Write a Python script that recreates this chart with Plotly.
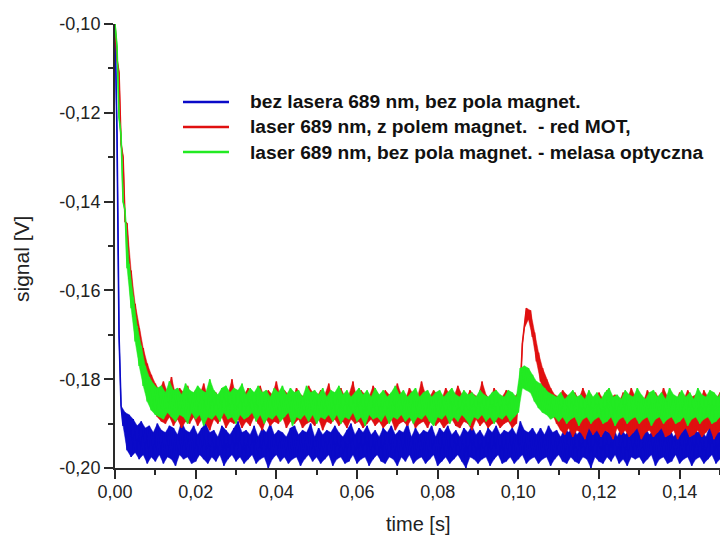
import numpy as np
import plotly.graph_objects as go

# Oscilloscope traces, sampled every 0.5 ms; signal values in mV
SAMPLE_STEP = 0.0005  # s

SERIES_NAMES = [
    "bez lasera 689 nm, bez pola magnet.",
    "laser 689 nm, z polem magnet.\u00a0 - red MOT,",
    "laser 689 nm, bez pola magnet. - melasa optyczna",
]
SERIES_COLORS = ["#0a0ac8", "#e01010", "#22ea22"]

blue_mv = [
    -100, -125, -170, -186, -190.5, -187.5, -196, -188, -197.5, -189,
    -196.5, -190.5, -198, -189.5, -197, -191, -199, -190.5, -197.5, -192,
    -198.5, -190, -197, -191.5, -199, -192, -197.5, -190.5, -198, -191,
    -199.5, -192.5, -197, -189.5, -198, -191.5, -197.5, -192, -199, -190.5,
    -198.5, -192.5, -197, -191, -198, -190, -199, -192, -197.5, -191.5,
    -198.5, -193, -197, -190.5, -199.5, -191.5, -198, -192.5, -197, -191,
    -198.5, -189.5, -197.5, -192, -199, -191.5, -198, -192.5, -197, -190.5,
    -199, -193, -198, -191, -197.5, -192, -200, -190, -198, -192.5,
    -197, -191.5, -198.5, -192, -197.5, -193, -199, -191, -198, -190.5,
    -197.5, -192.5, -199.5, -191.5, -198, -192, -197, -190, -198.5, -193,
    -197.5, -191, -199, -192.5, -198, -191.5, -197, -192, -199.5, -190.5,
    -198, -192, -197.5, -193, -199, -191.5, -198.5, -190, -197, -192.5,
    -199, -191, -198, -192, -197.5, -190.5, -199.5, -192.5, -198, -191.5,
    -197, -193, -198.5, -191, -199, -192, -197.5, -190.5, -198, -192.5,
    -199.5, -191.5, -197.5, -192, -198.5, -190, -197, -193, -199, -191,
    -198, -192.5, -197.5, -191.5, -199, -192, -198, -190.5, -197, -193,
    -199.5, -191, -198.5, -192, -197.5, -190.5, -199, -192.5, -198, -191.5,
    -197, -193, -198.5, -191, -200, -192, -197.5, -190.5, -198, -192.5,
    -199, -191.5, -198, -193, -197.5, -191, -199.5, -192, -198, -190.5,
    -197, -192.5, -199, -191.5, -198.5, -192, -197.5, -191, -199, -192.5,
    -198, -189.5, -197, -191.5, -199, -192, -198, -191, -197.5, -192.5,
    -199, -191, -198, -192.5, -197.5, -190.5, -199.5, -192, -198, -191.5,
    -197, -193, -198.5, -191, -199, -192, -197.5, -190.5, -198.5, -192.5,
    -199, -191.5, -197.5, -193, -198, -191, -200, -192, -197.5, -190.5,
    -198.5, -192.5, -199, -191.5, -197.5, -192, -198.5, -190.5, -197, -193,
    -199, -191, -198, -192.5, -199.5, -191.5, -197.5, -192, -198, -190.5,
    -197.5, -193, -199, -191, -198, -192.5, -197, -191.5, -199.5, -192,
    -198, -190.5, -197.5, -192.5, -199, -191, -198.5, -193, -197, -191.5,
    -199, -192, -198, -190.5, -197.5, -192.5, -199.5, -191, -198, -192,
    -197.5, -191.5, -199, -193, -198, -190.5, -197, -192, -199, -191.5,
    -198, -192.5, -197.5, -191,
]

red_mv = [
    -100, -108, -111, -127, -130, -144.5, -145, -157.5, -155.5, -166,
    -163, -172.5, -168.5, -178, -173, -182, -176.5, -185, -179, -187,
    -181, -188.5, -182.5, -189.5, -180.5, -190, -183, -188.5, -179.5, -190.5,
    -183.5, -189, -182, -191, -183, -189.5, -181.5, -190, -184, -188.5,
    -182.5, -190.5, -183.5, -189, -181, -190, -184, -191.5, -182.5, -189,
    -183, -190, -184.5, -188.5, -182, -191, -183.5, -189.5, -180, -190,
    -184, -189, -182.5, -191, -183.5, -189.5, -182, -190.5, -184.5, -188.5,
    -183, -190, -181.5, -191.5, -184, -189, -182.5, -190.5, -183.5, -189.5,
    -180.5, -190, -184, -188.5, -182.5, -191, -183.5, -189.5, -184.5, -190,
    -182, -189, -183.5, -191, -184, -190, -181.5, -189.5, -183, -190.5,
    -184, -189, -182.5, -191.5, -183.5, -189.5, -181, -190, -184.5, -189,
    -183, -190.5, -182, -189.5, -184, -191, -183.5, -189, -180.5, -190,
    -184.5, -189.5, -182.5, -191, -183.5, -190, -184, -189, -181.5, -190.5,
    -183, -189.5, -184.5, -191, -182.5, -190, -183.5, -189, -184, -191.5,
    -181, -190, -183.5, -189.5, -184.5, -190.5, -182, -189, -183.5, -191,
    -184, -190, -180.5, -189.5, -183.5, -191, -184, -189, -182.5, -190.5,
    -183.5, -189.5, -184.5, -191, -182, -190, -183.5, -189, -184, -190.5,
    -181.5, -191, -183.5, -189.5, -184.5, -190, -182.5, -191.5, -183.5, -189,
    -184, -190.5, -180.5, -189.5, -183.5, -191, -184.5, -190, -182, -189.5,
    -183.5, -191, -184, -190, -182.5, -189.5, -183, -191, -184, -190,
    -183, -182, -172, -168.5, -164, -166.5, -164.5, -170.5, -169.5, -176,
    -174, -180.5, -177.5, -183.5, -180, -186, -182, -188, -183.5, -190,
    -184, -191.5, -182.5, -192.5, -183.5, -191, -185, -193, -183, -191.5,
    -184.5, -192, -182, -193.5, -184, -191, -183.5, -192.5, -185, -191.5,
    -183, -193, -184.5, -191.5, -182.5, -192, -184, -193.5, -183.5, -191,
    -185, -192.5, -183, -191.5, -184.5, -193, -182, -192, -184, -191,
    -183.5, -193.5, -185, -192, -182.5, -191.5, -184, -193, -183, -192,
    -184.5, -191, -182, -193, -184, -192.5, -183.5, -191.5, -185, -193.5,
    -183, -192, -184.5, -191, -182.5, -193, -184, -192.5, -183.5, -191.5,
    -185, -193, -182.5, -192, -184, -191, -183.5, -193.5, -184.5, -192,
    -183, -191.5, -184, -193,
]

green_mv = [
    -100, -105, -121, -125, -140, -142, -155, -154, -164, -161.5,
    -171.5, -168, -177, -172.5, -181.5, -177, -185, -179.5, -187, -181,
    -188, -182, -188.5, -181.5, -189, -183, -187.5, -180.5, -188.5, -182.5,
    -189.5, -182, -188, -183.5, -188.5, -181, -190, -182.5, -187.5, -183,
    -189, -181.5, -188, -182.5, -190.5, -183, -188.5, -180, -189, -182.5,
    -188, -183.5, -189.5, -182, -187.5, -181.5, -189, -183, -188.5, -182,
    -190, -182.5, -188, -181, -189, -183.5, -188.5, -182, -187.5, -183,
    -189.5, -181.5, -188, -183, -190, -182.5, -188.5, -184, -189, -182,
    -188, -183, -189.5, -181.5, -188.5, -183.5, -187.5, -182, -190.5, -183,
    -188.5, -182.5, -189, -184, -188, -181.5, -189.5, -183, -188, -182.5,
    -190, -183.5, -188.5, -182, -189, -184, -188, -182.5, -189.5, -183,
    -188, -181.5, -190, -183.5, -188.5, -182.5, -189, -184, -187.5, -183,
    -189.5, -182, -188.5, -183.5, -190.5, -182.5, -188, -184, -189, -182,
    -188.5, -183.5, -189.5, -182.5, -188, -184, -190, -183, -188.5, -181.5,
    -189, -183.5, -188, -182.5, -189.5, -184, -188.5, -183, -190, -182,
    -188.5, -184, -189, -183, -188, -182.5, -189.5, -184, -190.5, -183,
    -188.5, -182.5, -189, -184, -188, -183, -190, -182, -188.5, -183.5,
    -189.5, -184, -188, -182.5, -189, -183.5, -190.5, -183, -188.5, -184,
    -189, -182.5, -188, -183.5, -189.5, -184, -188.5, -183, -190, -182.5,
    -188.5, -183.5, -189, -184, -188, -182.5, -189.5, -183, -188.5, -184,
    -187.5, -177.5, -182, -177, -182.5, -177.5, -183, -179, -185, -180.5,
    -186.5, -181, -187.5, -182, -188, -183, -189, -183.5, -188.5, -184,
    -189.5, -183, -188.5, -184.5, -190, -183.5, -189, -182.5, -188.5, -184,
    -190.5, -183.5, -189, -184.5, -188.5, -182.5, -190, -184, -189, -183,
    -188.5, -184.5, -190, -183, -189.5, -182, -188.5, -184, -190.5, -183.5,
    -189, -184.5, -188.5, -182.5, -190, -183.5, -189, -184, -188.5, -182,
    -190, -183.5, -189, -184.5, -188.5, -183, -190.5, -182.5, -189, -184,
    -188.5, -183, -190, -184.5, -189, -182, -188.5, -183.5, -190, -184,
    -189.5, -182.5, -188.5, -184, -190.5, -183, -189, -184.5, -188.5, -182,
    -190, -183.5, -189, -184, -188.5, -182.5, -190, -183, -189.5, -184,
    -188.5, -182.5, -190, -183.5,
]

X_TICK_VALUES = [0.00, 0.02, 0.04, 0.06, 0.08, 0.10, 0.12, 0.14]
X_TICK_TEXT = ["0,00", "0,02", "0,04", "0,06", "0,08", "0,10", "0,12", "0,14"]
Y_TICK_VALUES = [-0.20, -0.18, -0.16, -0.14, -0.12, -0.10]
Y_TICK_TEXT = ["-0,20", "-0,18", "-0,16", "-0,14", "-0,12", "-0,10"]

# Figure geometry (pixels)
W, H = 720, 536
ML, MR, MT, MB = 115, 0, 24, 68
PW, PH = W - ML - MR, H - MT - MB


def px_x(px):
    return (px - ML) / PW


def px_y(py):
    return (H - MB - py) / PH


def noise_band(t, v):
    """Polygon covering the area swept by a noisy trace: the upper edge runs
    through every sample that is not a local minimum, the lower edge through
    every sample that is not a local maximum."""
    prev = np.r_[v[0], v[:-1]]
    nxt = np.r_[v[1:], v[-1]]
    is_min = (v < prev) & (v < nxt)
    is_max = (v > prev) & (v > nxt)
    up, lo = ~is_min, ~is_max
    bx = np.concatenate([t[up], t[lo][::-1]])
    by = np.concatenate([v[up], v[lo][::-1]])
    return bx, by


FONT = "Liberation Sans, Arial, sans-serif"
AXIS_COLOR = "#2a2a2a"

fig = go.Figure()
for name, color, vals in zip(SERIES_NAMES, SERIES_COLORS, [blue_mv, red_mv, green_mv]):
    v = np.array(vals, dtype=float) / 1000.0
    t = np.arange(len(v)) * SAMPLE_STEP
    bx, by = noise_band(t, v)
    fig.add_trace(go.Scatter(x=bx, y=by, mode="lines", fill="toself",
                             fillcolor=color, line=dict(color=color, width=0.5),
                             hoverinfo="skip", showlegend=False))
    fig.add_trace(go.Scatter(x=t, y=v, mode="lines", name=name,
                             line=dict(color=color, width=1.6), showlegend=False))

# Legend drawn as line samples and bold labels inside the plot
legend_rows = [102, 127, 152]
for name, color, row in zip(SERIES_NAMES, SERIES_COLORS, legend_rows):
    fig.add_shape(type="line", xref="paper", yref="paper",
                  x0=px_x(183), x1=px_x(229), y0=px_y(row), y1=px_y(row),
                  line=dict(color=color, width=2.5))
    fig.add_annotation(xref="paper", yref="paper", x=px_x(248), y=px_y(row),
                       xanchor="left", yanchor="middle", showarrow=False,
                       text="<b>" + name + "</b>",
                       font=dict(family=FONT, size=19.2, color="#111"))

fig.add_annotation(xref="paper", yref="paper", x=px_x(417.5), y=px_y(523.5),
                   xanchor="center", yanchor="middle", showarrow=False,
                   text="time [s]", font=dict(family=FONT, size=20, color="#222"))
fig.add_annotation(xref="paper", yref="paper", x=px_x(21), y=px_y(259),
                   xanchor="center", yanchor="middle", showarrow=False, textangle=-90,
                   text="signal [V]", font=dict(family=FONT, size=21, color="#222"))

axis_common = dict(
    showgrid=False, zeroline=False, showline=True, linecolor=AXIS_COLOR, linewidth=2,
    ticks="outside", ticklen=9, tickwidth=2, tickcolor=AXIS_COLOR,
    tickfont=dict(family=FONT, size=18, color="#222"), automargin=False,
)

fig.update_xaxes(range=[0, 0.15], tickmode="array", tickvals=X_TICK_VALUES,
                 ticktext=X_TICK_TEXT, ticklabelstandoff=-3,
                 minor=dict(dtick=0.01, tick0=0, ticks="outside", ticklen=5,
                            tickwidth=2, tickcolor=AXIS_COLOR),
                 **axis_common)
fig.update_yaxes(range=[-0.2, -0.1], tickmode="array", tickvals=Y_TICK_VALUES,
                 ticktext=Y_TICK_TEXT,
                 minor=dict(dtick=0.01, tick0=0, ticks="outside", ticklen=5,
                            tickwidth=2, tickcolor=AXIS_COLOR),
                 **axis_common)

fig.update_layout(
    width=W, height=H,
    margin=dict(l=ML, r=MR, t=MT, b=MB, pad=0),
    paper_bgcolor="white", plot_bgcolor="white",
    showlegend=False,
)

fig.write_html("out.html")
